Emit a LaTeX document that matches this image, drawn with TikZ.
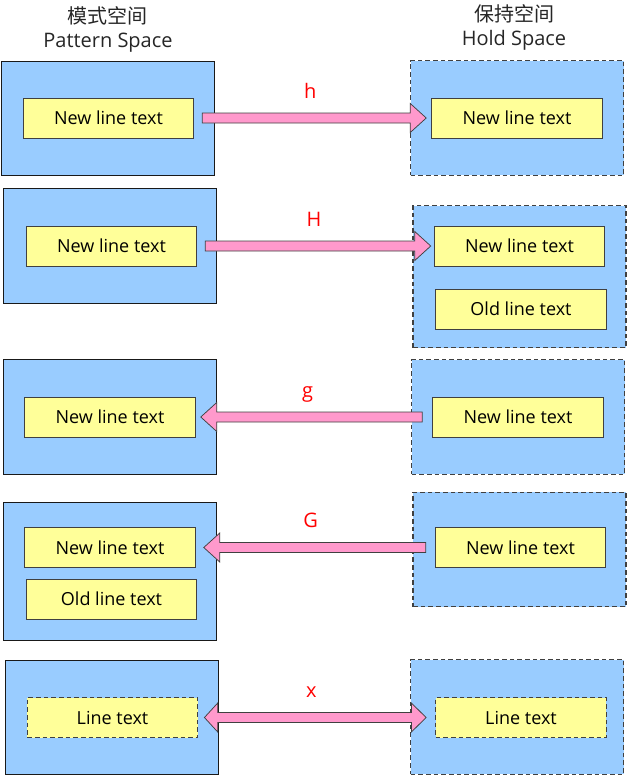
\documentclass[tikz,border=0pt]{standalone}
\usepackage{fontspec}
\setmainfont{Open Sans}
\newfontfamily\cjk{Noto Sans CJK SC}
\usepackage{tikz}
\usetikzlibrary{calc, positioning}
\usepackage{xcolor}
\definecolor{spaceblue}{RGB}{153,204,255}
\definecolor{lineyellow}{RGB}{255,255,153}
\definecolor{arrowpink}{RGB}{255,153,204}
\definecolor{edgegray}{RGB}{64,64,64}

% block arrow from #1 (tail) to #2 (tip), label #3
\newcommand{\pinkarrow}[3]{%
  \coordinate (ba) at ($(#2)!12pt!(#1)$);
  \draw[arrowbody] ([yshift=3.75pt]#1) -- ([yshift=3.75pt]ba) -- ([yshift=10.9pt]ba) -- (#2)
    -- ([yshift=-10.9pt]ba) -- ([yshift=-3.75pt]ba) -- ([yshift=-3.75pt]#1) -- cycle;
  \node[oplabel] (lbl-#3) at ($(#1)!0.5!(#2)$) {#3};
}
% two-headed block arrow
\newcommand{\pinkdoublearrow}[3]{%
  \coordinate (ba) at ($(#2)!11pt!(#1)$);
  \coordinate (bb) at ($(#1)!10pt!(#2)$);
  \draw[arrowbody] (#1) -- ([yshift=10.9pt]bb) -- ([yshift=3.75pt]bb) -- ([yshift=3.75pt]ba)
    -- ([yshift=10.9pt]ba) -- (#2) -- ([yshift=-10.9pt]ba) -- ([yshift=-3.75pt]ba)
    -- ([yshift=-3.75pt]bb) -- ([yshift=-10.9pt]bb) -- cycle;
  \node[oplabel] (lbl-#3) at ($(#1)!0.5!(#2)$) {#3};
}

\begin{document}
\begin{tikzpicture}[
  x=0.75pt, y=-0.75pt,
  header/.style={align=center, font=\fontsize{15}{18}\selectfont, text=black!85},
  patbox/.style={draw=black!90, line width=0.75pt, fill=spaceblue,
                 minimum width=159.75pt, minimum height=86pt, inner sep=0pt},
  holdbox/.style={patbox, draw=edgegray, line width=0.9pt, dash pattern=on 3.5pt off 2.25pt},
  linebox/.style={draw=edgegray, line width=0.65pt, fill=lineyellow,
                  minimum width=128pt, minimum height=30pt, inner sep=0pt,
                  font=\fontsize{13.5}{16}\selectfont},
  tempbox/.style={linebox, line width=0.9pt, dash pattern=on 3.5pt off 2.25pt},
  arrowbody/.style={draw=edgegray, line width=0.55pt, fill=arrowpink},
  oplabel/.style={text=red, anchor=base, yshift=15pt, xshift=-3pt, inner sep=0pt,
                  font=\fontsize{15}{18}\selectfont}
]
\useasboundingbox (0,0) rectangle (627,776);

%--- Headers ---
\node[header] (pathead)  at (108,29) {{\cjk 模式空间}\\Pattern Space};
\node[header] (holdhead) at (514,27) {{\cjk 保持空间}\\Hold Space};

%--- h ---
\node[patbox]  (pat1)     at (108,118.5) {};
\node[linebox] (pat1new)  at (108.5,118) {New line text};
\node[holdbox] (hold1)    at (517,118) {};
\node[linebox] (hold1new) at (517,118) {New line text};
\coordinate (h-tail) at ([xshift=6pt]pat1new.east);
\coordinate (h-tip)  at ([xshift=-3.75pt]hold1new.west);
\pinkarrow{h-tail}{h-tip}{h}

%--- H ---
\node[patbox]  (pat2)     at (110,246) {};
\node[linebox] (pat2new)  at (111.5,246) {New line text};
\node[holdbox, minimum height=106.5pt] (hold2) at (519.5,276.5) {};
\node[linebox] (hold2new) at (519.5,246) {New line text};
\node[linebox] (hold2old) at (521,309) {Old line text};
\coordinate (H-tail) at ([xshift=6pt]pat2new.east);
\coordinate (H-tip)  at ([xshift=-2.25pt]hold2new.west);
\pinkarrow{H-tail}{H-tip}{H}

%--- g ---
\node[patbox]  (pat3)     at (109.5,417) {};
\node[linebox] (pat3new)  at (110,417) {New line text};
\node[holdbox] (hold3)    at (518,417) {};
\node[linebox] (hold3new) at (518,417) {New line text};
\coordinate (g-tail) at ([xshift=-7.5pt]hold3new.west);
\coordinate (g-tip)  at ([xshift=3.75pt]pat3new.east);
\pinkarrow{g-tail}{g-tip}{g}

%--- G ---
\node[patbox, minimum height=103.5pt] (pat4) at (110,571) {};
\node[linebox] (pat4new)  at (110,547.5) {New line text};
\node[linebox] (pat4old)  at (111.5,599) {Old line text};
\node[holdbox] (hold4)    at (519.5,549.5) {};
\node[linebox] (hold4new) at (520.5,547.5) {New line text};
\coordinate (G-tail) at ([xshift=-6.75pt]hold4new.west);
\coordinate (G-tip)  at ([xshift=6pt]pat4new.east);
\pinkarrow{G-tail}{G-tip}{G}

%--- x ---
\node[patbox]  (pat5)      at (111.5,717.5) {};
\node[tempbox] (pat5line)  at (112.5,717.5) {Line text};
\node[holdbox] (hold5)     at (517,717) {};
\node[tempbox] (hold5line) at (521,717.5) {Line text};
\coordinate (x-left)  at ([xshift=4.5pt]pat5line.east);
\coordinate (x-right) at ([xshift=-6.75pt]hold5line.west);
\pinkdoublearrow{x-left}{x-right}{x}

\end{tikzpicture}
\end{document}
